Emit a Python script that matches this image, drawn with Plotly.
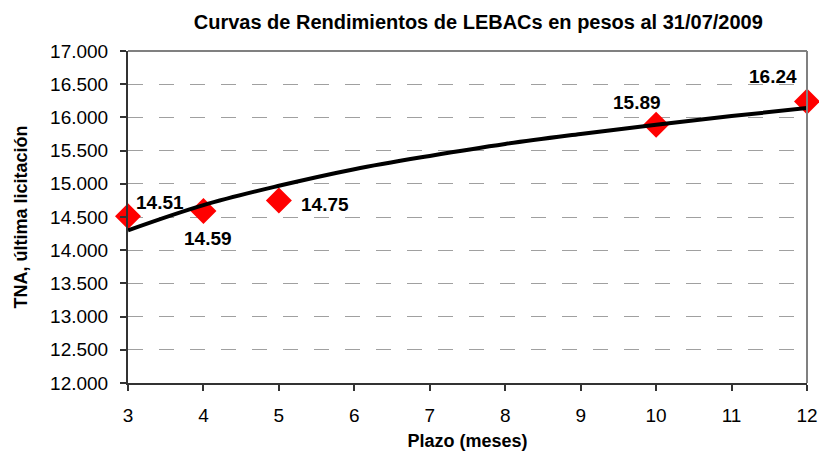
import plotly.graph_objects as go

# Data
plazo = [3, 4, 5, 10, 12]
tna = [14.51, 14.59, 14.75, 15.89, 16.24]
labels = ["14.51", "14.59", "14.75", "15.89", "16.24"]

# Trend curve
trend_x = [3, 4, 5, 6, 7, 8, 9, 10, 11, 12]
trend_y = [14.30, 14.68, 14.97, 15.22, 15.42, 15.60, 15.75, 15.89, 16.02, 16.14]

x_ticks = [3, 4, 5, 6, 7, 8, 9, 10, 11, 12]

fig = go.Figure()
fig.add_trace(go.Scatter(x=plazo, y=tna, mode="markers",
                         marker=dict(symbol="diamond", size=20, color="#FF0000"),
                         showlegend=False, cliponaxis=False))
fig.add_trace(go.Scatter(x=trend_x, y=trend_y, mode="lines",
                         line=dict(color="black", width=4, shape="spline"),
                         hoverinfo="skip", showlegend=False, cliponaxis=False))

# label offsets (pixels)
offsets = [(32, 14), (5, -27), (46, -4), (-19, 22), (-34, 25)]
for xv, yv, t, (dx, dy) in zip(plazo, tna, labels, offsets):
    fig.add_annotation(x=xv, y=yv, text="<b>%s</b>" % t, showarrow=False,
                       xshift=dx, yshift=dy,
                       font=dict(family="Liberation Sans, Arial", size=19, color="black"))

# top and right gray border
fig.add_shape(type="line", xref="paper", yref="paper", x0=0, x1=1, y0=1, y1=1,
              line=dict(color="#808080", width=2))
fig.add_shape(type="line", xref="paper", yref="paper", x0=1, x1=1, y0=0, y1=1,
              line=dict(color="#808080", width=2))

fig.update_layout(
    width=819, height=451,
    margin=dict(l=128, r=12, t=51, b=68, autoexpand=False),
    paper_bgcolor="white", plot_bgcolor="white",
    font=dict(family="Liberation Sans, Arial", size=18, color="black"),
    title=dict(text="<b>Curvas de Rendimientos de LEBACs en pesos al 31/07/2009</b>",
               x=0.584, xanchor="center", y=0.951, yanchor="middle",
               font=dict(size=20)),
)
fig.update_xaxes(range=[3, 12], tickvals=x_ticks, showgrid=False, zeroline=False,
                 automargin=False,
                 showline=True, linecolor="#333333", linewidth=2,
                 ticks="outside", ticklen=6, tickcolor="#333333", tickwidth=2,
                 ticklabelstandoff=8, tickfont=dict(size=19),
                 title=dict(text="<b>Plazo (meses)</b>", font=dict(size=18), standoff=13))
fig.update_yaxes(range=[12, 17], dtick=0.5, tickformat=".3f", zeroline=False,
                 automargin=False,
                 showgrid=True, gridcolor="#A0A0A0", gridwidth=1, griddash="15px,16px",
                 showline=True, linecolor="#333333", linewidth=2,
                 ticks="outside", ticklen=6, tickcolor="#333333", tickwidth=2,
                 ticklabelstandoff=8, tickfont=dict(size=19),
                 title=dict(text="<b>TNA, última licitación</b>", font=dict(size=18), standoff=18))

fig.write_html("out.html", config={"displayModeBar": False},
               post_script="document.body.style.margin='0';"
                           "document.body.style.overflow='hidden';"
                           "document.documentElement.style.overflow='hidden';")
